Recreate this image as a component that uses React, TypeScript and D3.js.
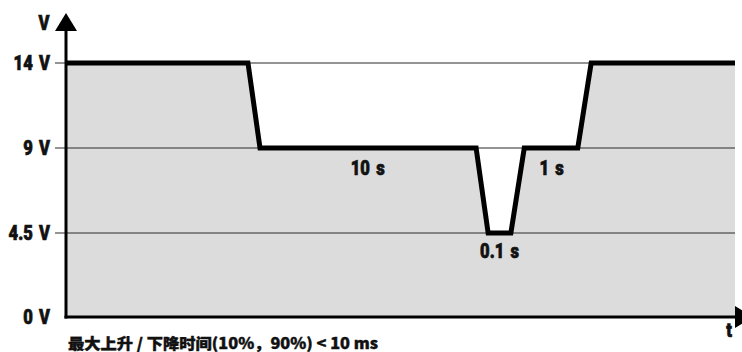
import React from "react";
import * as d3 from "d3";

// Voltage levels on the y axis (drawn equally spaced, as in the schematic)
const levels = [0, 4.5, 9, 14];
const levelLabels = ["0 V", "4.5 V", "9 V", "14 V"];

// Waveform breakpoints: schematic time (% of the time axis) and voltage
const timePct = [0, 27.2, 29.0, 61.3, 63.1, 66.5, 68.5, 76.5, 78.5, 100];
const volts = [14, 14, 9, 9, 4.5, 4.5, 9, 9, 14, 14];

// Duration annotations
const notes = [
  { label: "10 s", t: 45.1, v: 9 },
  { label: "1 s", t: 72.6, v: 9 },
  { label: "0.1 s", t: 64.8, v: 4.5 },
];

const caption = "最大上升 / 下降时间(10%，90%) < 10 ms";

const font = "Roboto, 'DejaVu Sans', sans-serif";

// heavy text squeezed horizontally to mimic a condensed bold face
function CondText({
  x,
  y,
  anchor = "start",
  size = 19,
  squeeze = 0.8,
  children,
}: {
  x: number;
  y: number;
  anchor?: "start" | "middle" | "end";
  size?: number;
  squeeze?: number;
  children: React.ReactNode;
}) {
  return (
    <text
      transform={`translate(${x},${y}) scale(${squeeze},1)`}
      textAnchor={anchor}
      fontFamily={font}
      fontWeight={900}
      fontSize={size}
      fill="#111"
      stroke="#111"
      strokeWidth={0.7}
      wordSpacing={2.5}
    >
      {children}
    </text>
  );
}

export default function App() {
  const width = 742;
  const height = 352;
  const left = 66;
  const right = 735;

  const x = d3.scaleLinear().domain([0, 100]).range([left, right]);
  // piecewise scale: levels are equally spaced in the drawing
  const y = d3.scaleLinear().domain(levels).range([317, 233, 148, 63]);

  const pts = timePct.map((t, i) => ({ t, v: volts[i] }));

  const area = d3
    .area<{ t: number; v: number }>()
    .x((d) => x(d.t))
    .y0(y(0))
    .y1((d) => y(d.v))(pts) || "";

  const line = d3
    .line<{ t: number; v: number }>()
    .x((d) => x(d.t))
    .y((d) => y(d.v))(pts) || "";

  const y0 = y(0);

  return (
    <div style={{ position: "absolute", left: 0, top: 0 }}>
      <svg width={width} height={height} style={{ display: "block", background: "#fff" }}>
        {/* grey area under the waveform */}
        <path d={area} fill="#dcdcdc" />

        {/* level grid lines + tick marks */}
        {levels.slice(1).map((lv) => (
          <line
            key={lv}
            x1={left - 11}
            x2={right}
            y1={y(lv)}
            y2={y(lv)}
            stroke="#2a2a2a"
            strokeWidth={1.2}
          />
        ))}

        {/* tick labels */}
        {levels.map((lv, i) => (
          <CondText key={lv} x={50} y={y(lv) + 7} anchor="end" size={19.5} squeeze={0.85}>
            {levelLabels[i]}
          </CondText>
        ))}

        {/* waveform */}
        <path d={line} fill="none" stroke="#000" strokeWidth={5} strokeLinejoin="miter" />

        {/* axes */}
        <line x1={left} x2={left} y1={y0 + 1.5} y2={28} stroke="#000" strokeWidth={3} />
        <path d={`M${left},13 L${left - 11},31 L${left + 11},31 Z`} fill="#000" />
        <line x1={left - 1.5} x2={right} y1={y0} y2={y0} stroke="#000" strokeWidth={3} />
        <path d={`M${right + 18},${y0} L${right},${y0 - 11} L${right},${y0 + 11} Z`} fill="#000" />

        <CondText x={44} y={30} anchor="middle" size={19.5} squeeze={0.85}>
          V
        </CondText>
        <CondText x={729} y={337} anchor="middle" size={19.5} squeeze={0.85}>
          t
        </CondText>

        {/* duration annotations */}
        {notes.map((n) => (
          <CondText
            key={n.label}
            x={x(n.t)}
            y={y(n.v) + (n.v === 9 ? 27 : 25)}
            anchor="middle"
            size={19.5}
            squeeze={0.85}
          >
            {n.label}
          </CondText>
        ))}

        {/* caption */}
        <text
          x={68}
          y={349}
          fontFamily="'Noto Sans CJK SC', Roboto, sans-serif"
          fontWeight={900}
          fontSize={15}
          fill="#111"
          stroke="#111"
          strokeWidth={0.4}
          textLength={310}
          lengthAdjust="spacingAndGlyphs"
        >
          {caption}
        </text>
      </svg>
    </div>
  );
}
